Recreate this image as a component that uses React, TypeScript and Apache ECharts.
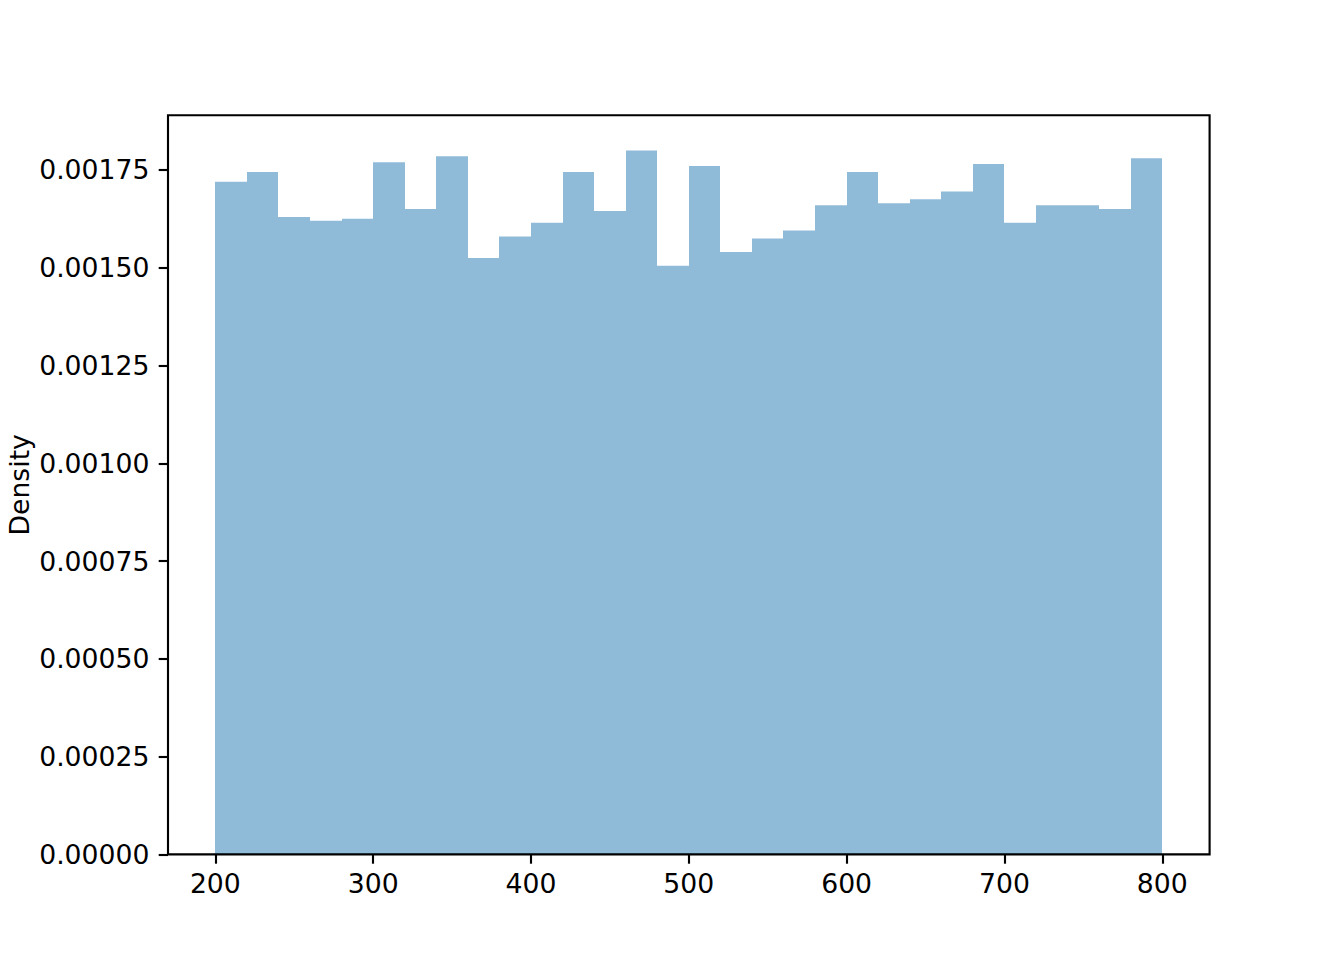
import React, { useEffect, useRef } from "react";
import * as echarts from "echarts";

// Histogram bin edges (31 edges -> 30 bins)
const binEdges = [
  200, 220, 240, 260, 280, 300, 320, 340, 360, 380, 400,
  420, 440, 460, 480, 500, 520, 540, 560, 580, 600,
  620, 640, 660, 680, 700, 720, 740, 760, 780, 800,
];
// Density per bin
const densities = [
  0.00172, 0.001745, 0.00163, 0.00162, 0.001625, 0.00177, 0.00165, 0.001785,
  0.001525, 0.00158, 0.001615, 0.001745, 0.001645, 0.0018, 0.001505, 0.00176,
  0.00154, 0.001575, 0.001595, 0.00166, 0.001745, 0.001665, 0.001675, 0.001695,
  0.001765, 0.001615, 0.00166, 0.00166, 0.00165, 0.00178,
];
const xTicks = [200, 300, 400, 500, 600, 700, 800];
const yTickMax = 0.00175;
const yTickStep = 0.00025;
const yLabel = "Density";

export default function App() {
  const ref = useRef<HTMLDivElement>(null);
  useEffect(() => {
    if (!ref.current) return;
    const chart = echarts.init(ref.current, null, { renderer: "svg" });

    const xMin = binEdges[0];
    const xMax = binEdges[binEdges.length - 1];
    const xPad = (xMax - xMin) * 0.05;
    const yMax = Math.max(...densities) * 1.05;

    const L = 168, T = 115.2, W = 1041.6, H = 739.2;
    const pxPerX = W / (xMax - xMin + 2 * xPad);
    const leftB = L + xPad * pxPerX;
    const widthB = (xMax - xMin) * pxPerX;
    const topB = T + (1 - yTickMax / yMax) * H;
    const heightB = T + H - topB;

    const font = "DejaVu Sans";
    const fs = 26.67;
    const lw = 2.13;
    const fill = "#8fbbd9";

    const data = densities.map((d, i) => [binEdges[i], binEdges[i + 1], d]);

    chart.setOption({
      animation: false,
      backgroundColor: "#ffffff",
      textStyle: { fontFamily: font },
      grid: [
        { left: L, top: T, width: W, height: H, show: true, borderColor: "#000", borderWidth: lw, z: 5, backgroundColor: "transparent", outerBoundsMode: "none", containLabel: false },
        { left: leftB, top: topB, width: widthB, height: heightB, show: false, outerBoundsMode: "none", containLabel: false },
      ],
      xAxis: [
        { type: "value", gridIndex: 0, min: xMin - xPad, max: xMax + xPad, show: false },
        {
          type: "value", gridIndex: 1, min: xTicks[0], max: xTicks[xTicks.length - 1], interval: 100,
          axisLine: { show: false },
          axisTick: { show: true, length: 9.3, lineStyle: { color: "#000", width: lw } },
          axisLabel: { color: "#000", fontSize: fs, fontFamily: font, margin: 16 },
          splitLine: { show: false },
        },
      ],
      yAxis: [
        {
          type: "value", gridIndex: 0, min: 0, max: yMax,
          axisLine: { show: false },
          axisTick: { show: false },
          axisLabel: { show: false },
          splitLine: { show: false },
          name: yLabel,
          nameLocation: "middle",
          nameGap: 135,
          nameMoveOverlap: false,
          nameTextStyle: { color: "#000", fontSize: fs, fontFamily: font },
        },
        {
          type: "value", gridIndex: 1, min: 0, max: yTickMax, interval: yTickStep,
          offset: leftB - L,
          axisLine: { show: false },
          axisTick: { show: true, length: 9.3, lineStyle: { color: "#000", width: lw } },
          axisLabel: { color: "#000", fontSize: fs, fontFamily: font, margin: 18.6, formatter: (v: number) => v.toFixed(5) },
          splitLine: { show: false },
        },
      ],
      series: [
        {
          type: "custom",
          xAxisIndex: 0,
          yAxisIndex: 0,
          z: 2,
          data,
          renderItem: (params: any, api: any) => {
            const p0 = api.coord([api.value(0), api.value(2)]);
            const p1 = api.coord([api.value(1), 0]);
            const x0 = Math.round(p0[0]);
            const x1 = Math.round(p1[0]);
            return {
              type: "rect",
              shape: { x: x0, y: p0[1], width: x1 - x0, height: p1[1] - p0[1] },
              style: { fill },
            };
          },
        },
      ],
    });
    return () => chart.dispose();
  }, []);
  return <div ref={ref} style={{ width: 1344, height: 960, margin: -8 }} />;
}
